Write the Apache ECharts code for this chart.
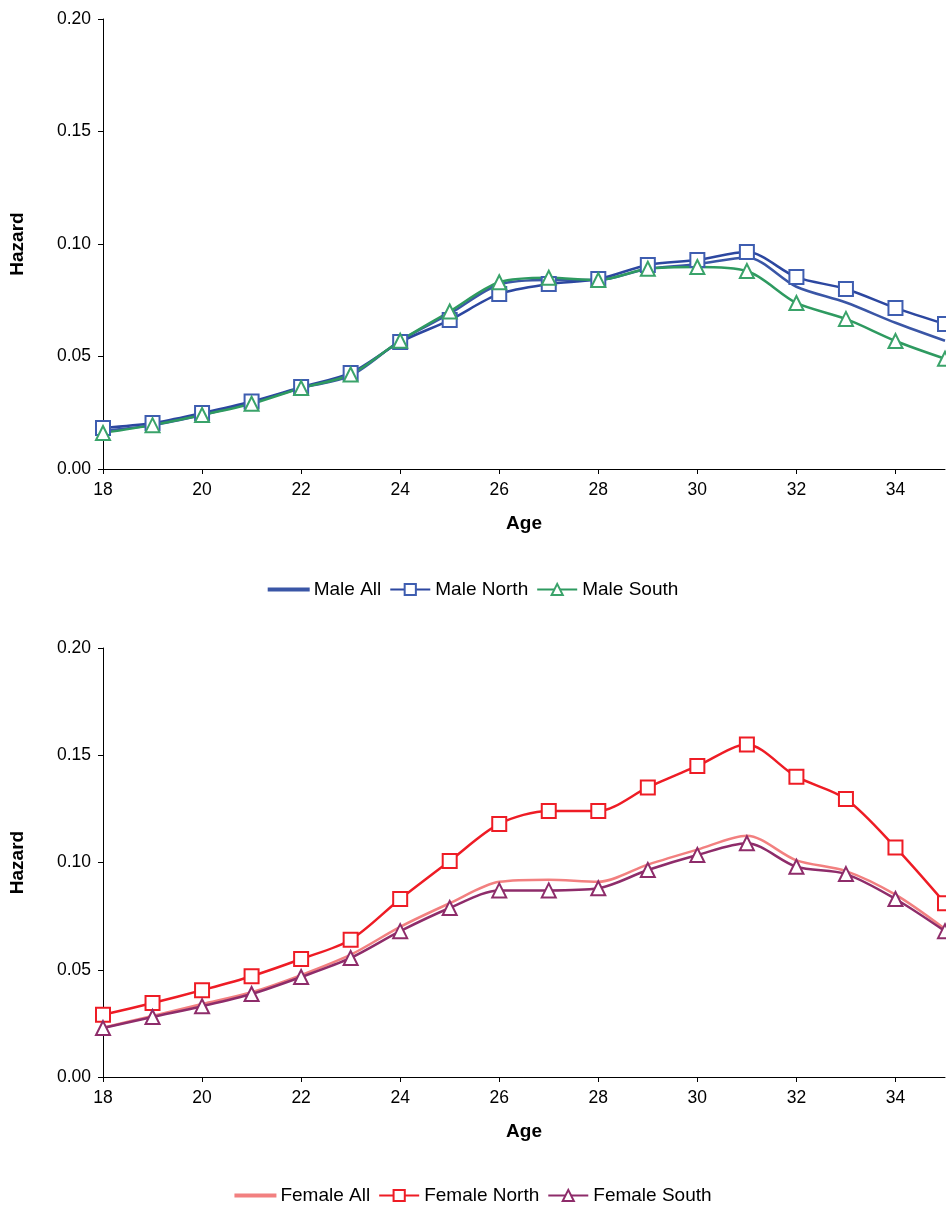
<!DOCTYPE html>
<html>
<head>
<meta charset="utf-8">
<script src="https://cdn.jsdelivr.net/npm/echarts@6/dist/echarts.min.js"></script>
<style>html,body{margin:0;padding:0;background:#fff}#chart{width:946px;height:1205px}</style>
</head>
<body>
<div id="chart"></div>
<script>
const ages = [18, 19, 20, 21, 22, 23, 24, 25, 26, 27, 28, 29, 30, 31, 32, 33, 34, 35]
const maleAll = [0.017, 0.0195, 0.024, 0.0295, 0.036, 0.0415, 0.057, 0.069, 0.082, 0.084, 0.084, 0.089, 0.091, 0.094, 0.081, 0.074, 0.065, 0.057]
const maleNorth = [0.0182, 0.0204, 0.0249, 0.030, 0.0364, 0.0427, 0.0564, 0.0662, 0.0778, 0.0822, 0.0844, 0.0907, 0.0929, 0.0964, 0.0853, 0.080, 0.0716, 0.0644]
const maleSouth = [0.016, 0.0195, 0.024, 0.029, 0.036, 0.042, 0.057, 0.070, 0.083, 0.085, 0.084, 0.089, 0.0898, 0.088, 0.0738, 0.0667, 0.0569, 0.049]
const femaleAll = [0.023, 0.0285, 0.034, 0.0395, 0.0475, 0.057, 0.070, 0.081, 0.091, 0.092, 0.091, 0.099, 0.106, 0.1125, 0.101, 0.096, 0.085, 0.069]
const femaleNorth = [0.029, 0.0345, 0.0405, 0.047, 0.055, 0.064, 0.083, 0.1007, 0.118, 0.124, 0.124, 0.135, 0.145, 0.155, 0.140, 0.1296, 0.107, 0.081]
const femaleSouth = [0.0228, 0.028, 0.033, 0.0387, 0.0466, 0.0555, 0.068, 0.0788, 0.087, 0.087, 0.088, 0.0965, 0.1035, 0.109, 0.098, 0.0946, 0.083, 0.068]

const pairs = vals => ages.map((a, i) => [a, vals[i]])
const font = 'Arial, "Liberation Sans", sans-serif'
const lineIcon = 'path://M0,0h40v2h-40z'

function xAxis(idx) {
  return {
    gridIndex: idx, type: 'value', min: 18, max: 35, interval: 2,
    name: 'Age', nameLocation: 'middle', nameGap: 45,
    nameTextStyle: { fontFamily: font, fontSize: 19, fontWeight: 'bold', color: '#000' },
    axisLine: { lineStyle: { color: '#000' } },
    axisTick: { lineStyle: { color: '#000' }, length: 5 },
    axisLabel: { fontFamily: font, fontSize: 17.5, color: '#000', margin: 12, showMaxLabel: false },
    splitLine: { show: false }
  }
}
function yAxis(idx) {
  return {
    gridIndex: idx, type: 'value', min: 0, max: 0.2, interval: 0.05,
    name: 'Hazard', nameLocation: 'middle', nameGap: 76, nameRotate: 90,
    nameTextStyle: { fontFamily: font, fontSize: 19, fontWeight: 'bold', color: '#000' },
    axisLine: { show: true, lineStyle: { color: '#000' } },
    axisTick: { show: true, lineStyle: { color: '#000' }, length: 5 },
    axisLabel: { fontFamily: font, fontSize: 17.5, color: '#000', margin: 12, formatter: v => v.toFixed(2) },
    splitLine: { show: false }
  }
}
function line(name, vals, color, symbol, idx, mcolor) {
  return {
    name, type: 'line', xAxisIndex: idx, yAxisIndex: idx, data: pairs(vals),
    smooth: 0.3, symbol: symbol, symbolSize: 14,
    showSymbol: symbol !== 'none',
    lineStyle: { color, width: 2.5 },
    itemStyle: { color: mcolor || color, borderColor: mcolor || color, borderWidth: 1.3 },
    emphasis: { disabled: true }
  }
}
const legendStyle = { fontFamily: font, fontSize: 19, color: '#000' }

const myChart = echarts.init(document.getElementById('chart'))
myChart.setOption({
  animation: false,
  grid: [
    { left: 99, right: 1, top: 19, height: 450 },
    { left: 99, right: 1, top: 648, height: 429 }
  ],
  legend: [
    { top: 575, left: 'center', itemWidth: 40, itemHeight: 14, itemGap: 8, textStyle: legendStyle,
      data: [{ name: 'Male All', icon: lineIcon }, 'Male North', 'Male South'] },
    { top: 1181, left: 'center', itemWidth: 40, itemHeight: 14, itemGap: 8, textStyle: legendStyle,
      data: [{ name: 'Female All', icon: lineIcon }, 'Female North', 'Female South'] }
  ],
  xAxis: [xAxis(0), xAxis(1)],
  yAxis: [yAxis(0), yAxis(1)],
  series: [
    line('Male All', maleAll, '#3A56A6', 'none', 0),
    line('Male North', maleNorth, '#2C47A0', 'emptyRect', 0, '#3E5DB0'),
    line('Male South', maleSouth, '#2E9A60', 'emptyTriangle', 0, '#3AA36A'),
    line('Female All', femaleAll, '#F28080', 'none', 1),
    line('Female North', femaleNorth, '#EE1C25', 'emptyRect', 1),
    line('Female South', femaleSouth, '#8E2C6A', 'emptyTriangle', 1)
  ]
})
</script>
</body>
</html>
